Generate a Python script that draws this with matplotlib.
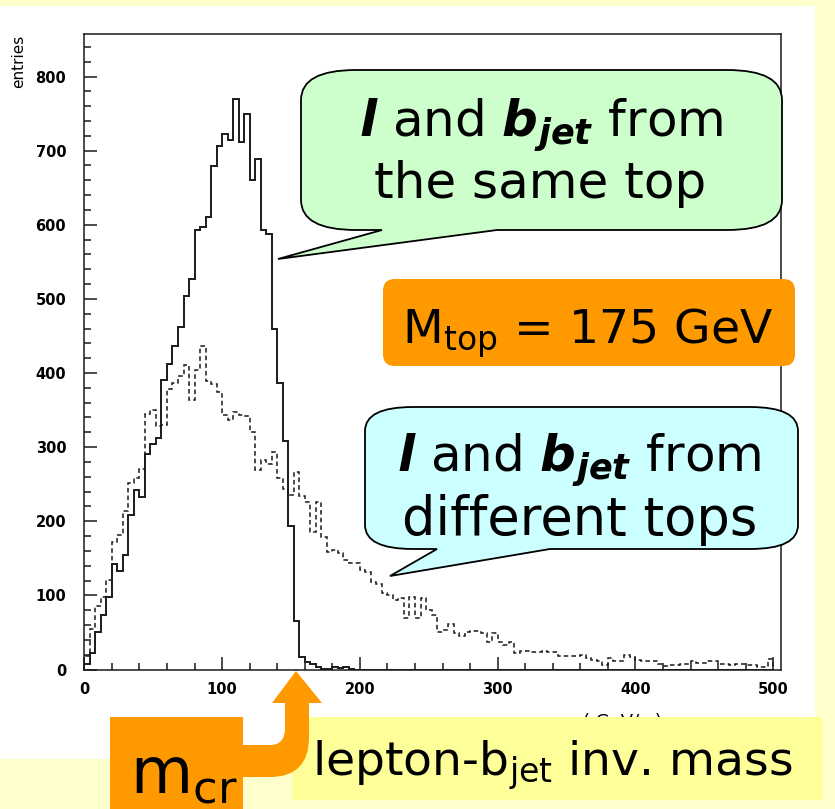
import numpy as np
import matplotlib
matplotlib.use("Agg")
import matplotlib.pyplot as plt
from matplotlib.path import Path
from matplotlib.patches import PathPatch, Rectangle
from matplotlib.ticker import MultipleLocator
from matplotlib.transforms import Affine2D

W, H = 835, 809

# lepton-b_jet invariant mass, 4 GeV bins from 0 to 500
bin_edges = np.arange(0, 501, 4)

same_top = [
    8, 22, 50, 73, 98, 142, 133, 155, 208, 242,
    233, 291, 304, 312, 391, 412, 436, 462, 504, 527,
    593, 597, 610, 679, 706, 722, 715, 770, 712, 750,
    660, 689, 593, 587, 460, 387, 308, 194, 66, 17,
    10, 7, 3, 1, 1, 3, 2, 3, 1, 0,
    0, 0, 0, 0, 0, 0, 0, 0, 0, 0,
    0, 0, 0, 0, 0, 0, 0, 0, 0, 0,
    0, 0, 0, 0, 0, 0, 0, 0, 0, 0,
    0, 0, 0, 0, 0, 0, 0, 0, 0, 0,
    0, 0, 0, 0, 0, 0, 0, 0, 0, 0,
    0, 0, 0, 0, 0, 0, 0, 0, 0, 0,
    0, 0, 0, 0, 0, 0, 0, 0, 0, 0,
    0, 0, 0, 0, 0,
]

diff_top = [
    18, 55, 85, 98, 121, 172, 181, 214, 252, 259,
    271, 345, 350, 329, 330, 379, 387, 396, 411, 364,
    404, 437, 389, 385, 374, 344, 337, 348, 344, 342,
    320, 269, 283, 277, 293, 258, 244, 235, 267, 234,
    226, 186, 226, 179, 159, 161, 157, 148, 144, 144,
    134, 132, 118, 115, 103, 100, 94, 96, 70, 98,
    70, 96, 80, 73, 51, 53, 62, 49, 45, 51,
    52, 52, 49, 37, 49, 37, 33, 37, 22, 25,
    25, 24, 23, 25, 24, 23, 18, 18, 18, 18,
    20, 16, 13, 11, 6, 15, 11, 11, 20, 17,
    13, 11, 11, 11, 8, 5, 6, 6, 7, 8,
    11, 9, 9, 11, 11, 8, 8, 6, 8, 8,
    6, 6, 3, 4, 14,
]

x_ticks = [0, 100, 200, 300, 400, 500]
y_ticks = [0, 100, 200, 300, 400, 500, 600, 700, 800]

BG = "#FFFFCC"
LABEL_BG = "#FFFF99"
ORANGE = "#FF9900"
GREEN = "#CCFFCC"
CYAN = "#CCFFFF"
INK = "#1a1a1a"

fig = plt.figure(figsize=(W / 100, H / 100), dpi=100, facecolor=BG)
# pixel coordinates measured from the top-left corner
pix = Affine2D().scale(1, -1).translate(0, H)

fig.add_artist(Rectangle((0, 6), 815, 753, transform=pix, facecolor="white",
                         edgecolor="none", zorder=0))

ax = fig.add_axes([84.3 / W, 1 - 669.5 / H, 696.4 / W, 635.2 / H])
ax.set_facecolor("white")
ax.stairs(same_top, bin_edges, color=INK, lw=1.4)
ax.stairs(diff_top, bin_edges, color=INK, lw=1.1, linestyle=(0, (3, 2)))
ax.set_xlim(0, 505.4)
ax.set_ylim(0, 857)
ax.set_xticks(x_ticks)
ax.set_yticks(y_ticks)
ax.xaxis.set_minor_locator(MultipleLocator(20))
ax.yaxis.set_minor_locator(MultipleLocator(20))
ax.tick_params(which="both", direction="in", top=False, right=False,
               color=INK, width=1.1)
ax.tick_params(which="major", length=9.5)
ax.tick_params(which="minor", length=5)
ax.tick_params(axis="y", pad=13)
ax.tick_params(axis="x", pad=9)
for lab in ax.get_xticklabels() + ax.get_yticklabels():
    lab.set_fontsize(10.5)
    lab.set_fontweight("bold")
for sp in ax.spines.values():
    sp.set_linewidth(1.1)
    sp.set_color(INK)

fig.text(19, 35, "entries", transform=pix, rotation=90, ha="center", va="top",
         fontsize=11)

M, L, C3, CL = Path.MOVETO, Path.LINETO, Path.CURVE3, Path.CLOSEPOLY


def bubble(x0, y0, x1, y1, rx, ry, tail=None):
    verts = [(x0 + rx, y0), (x1 - rx, y0), (x1, y0), (x1, y0 + ry),
             (x1, y1 - ry), (x1, y1), (x1 - rx, y1)]
    codes = [M, L, C3, C3, L, C3, C3]
    if tail:
        xa, xb, tip = tail
        verts += [(xb, y1), tip, (xa, y1)]
        codes += [L, L, L]
    verts += [(x0 + rx, y1), (x0, y1), (x0, y1 - ry), (x0, y0 + ry),
              (x0, y0), (x0 + rx, y0), (x0 + rx, y0)]
    codes += [L, C3, C3, L, C3, C3, CL]
    return Path(verts, codes)


fig.add_artist(PathPatch(bubble(301, 70, 782, 230, 55, 30, (382, 497, (278, 259))),
                         transform=pix, facecolor=GREEN, edgecolor="black",
                         lw=1.3, zorder=5))
fig.add_artist(PathPatch(bubble(383, 279, 795, 366, 12, 12), transform=pix,
                         facecolor=ORANGE, edgecolor="none", zorder=5))
fig.add_artist(PathPatch(bubble(365, 407, 798, 549, 48, 24, (437, 550, (390, 576))),
                         transform=pix, facecolor=CYAN, edgecolor="black",
                         lw=1.3, zorder=5))

big = dict(transform=pix, fontsize=36, ha="center", va="baseline", zorder=6)
fig.text(541, 137, r"$\mathbfit{l}$ and $\mathbfit{b}_{\mathbfit{jet}}$ from", **big)
fig.text(540, 198, "the same top", **big)
fig.text(588, 343, r"M$_{\rm top}$ = 175 GeV", transform=pix, fontsize=34,
         ha="center", va="baseline", zorder=6)
fig.text(579, 472, r"$\mathbfit{l}$ and $\mathbfit{b}_{\mathbfit{jet}}$ from", **big)
fig.text(580, 535, "different tops", transform=pix, fontsize=38, ha="center",
         va="baseline", zorder=6)

# axis title underneath, mostly hidden by the label box
fig.text(622, 713, "( GeV/c )", transform=pix, fontsize=13, ha="center",
         va="top", zorder=1)

fig.add_artist(Rectangle((292, 717), 530, 83, transform=pix, facecolor=LABEL_BG,
                         edgecolor="none", zorder=5))
fig.text(312, 775, r"lepton-b$_{\rm jet}$ inv. mass", transform=pix, fontsize=34,
         ha="left", va="baseline", zorder=6)

fig.add_artist(Rectangle((110, 717), 133, 100, transform=pix, facecolor=ORANGE,
                         edgecolor="none", zorder=5))
arrow = Path([(235, 745), (270, 745), (285, 745), (285, 728), (285, 703),
              (272, 703), (296, 671), (322, 703), (309, 703), (309, 737),
              (309, 777), (270, 777), (235, 777), (235, 745)],
             [M, L, C3, C3, L, L, L, L, L, L, C3, C3, L, CL])
fig.add_artist(PathPatch(arrow, transform=pix, facecolor=ORANGE, edgecolor="none",
                         zorder=5))
fig.text(130, 793, r"m$_{\rm cr}$", transform=pix, fontsize=46, ha="left",
         va="baseline", zorder=6)

fig.savefig("out.png", dpi=100, facecolor=BG)
